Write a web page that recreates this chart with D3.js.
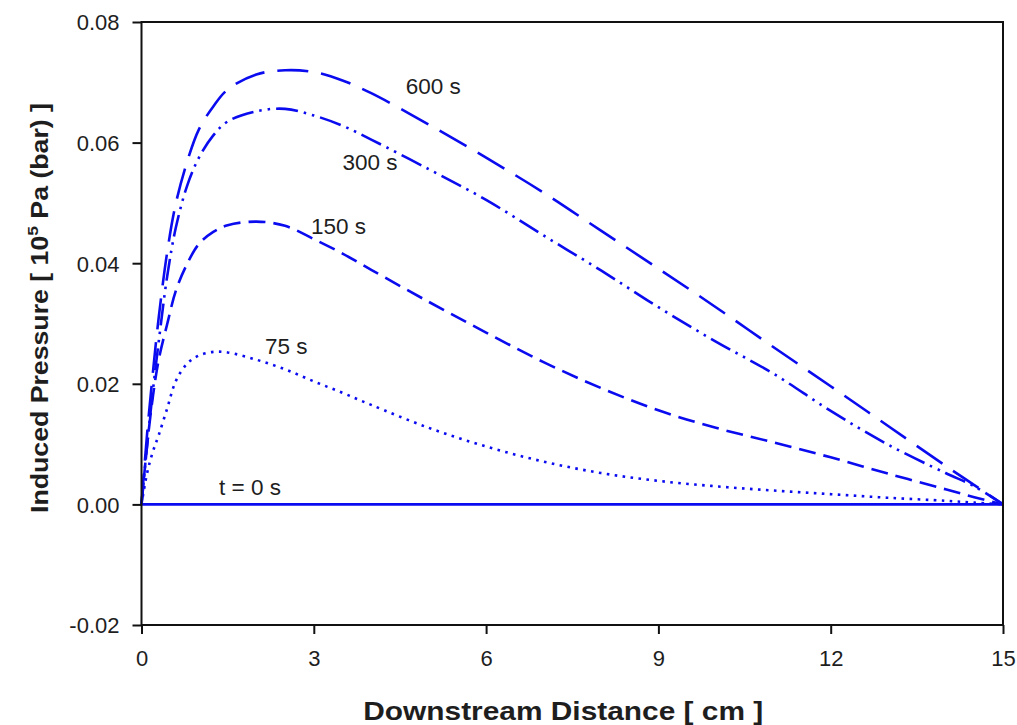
<!DOCTYPE html>
<html>
<head>
<meta charset="utf-8">
<script src="https://cdn.jsdelivr.net/npm/d3@7"></script>
<style>
  html, body { margin: 0; padding: 0; background: #fff; }
  svg { display: block; font-family: "Liberation Sans", Arial, sans-serif; }
</style>
</head>
<body>
<svg id="chart" width="1017" height="725"></svg>
<script>
// Downstream distance (cm) at which each profile is sampled
const distance = [0, 0.1, 0.2, 0.3, 0.45, 0.6, 0.8, 1.0, 1.25, 1.5, 2.0, 2.5, 3.0, 3.5, 4.0, 5.0, 6.0, 7.0, 8.0, 9.0, 10.0, 11.0, 12.0, 13.0, 14.0, 14.5, 15.0];

// Induced pressure (10^5 Pa) along the channel at successive times
const p600 = [0, 0.012, 0.022, 0.031, 0.042, 0.050, 0.057, 0.0622, 0.0660, 0.0688, 0.0713, 0.0720, 0.0717, 0.0703, 0.0682, 0.0630, 0.0575, 0.0517, 0.0454, 0.0391, 0.0327, 0.0261, 0.0196, 0.0130, 0.0064, 0.0032, 0];
const p300 = [0, 0.010, 0.019, 0.027, 0.038, 0.046, 0.053, 0.0575, 0.0612, 0.0635, 0.0652, 0.0656, 0.0645, 0.0628, 0.0605, 0.0556, 0.0505, 0.0446, 0.0388, 0.0327, 0.0270, 0.0217, 0.0155, 0.0099, 0.0052, 0.0030, 0];
const p150 = [0, 0.010, 0.018, 0.024, 0.030, 0.0355, 0.040, 0.0432, 0.0452, 0.0463, 0.0469, 0.0462, 0.0440, 0.0416, 0.0389, 0.0336, 0.0285, 0.0236, 0.0193, 0.0156, 0.0127, 0.0103, 0.0078, 0.0051, 0.0025, 0.0012, 0];
const p75  = [0, 0.0053, 0.0088, 0.0115, 0.016, 0.0205, 0.0234, 0.0247, 0.0253, 0.0252, 0.0240, 0.0224, 0.0204, 0.0185, 0.0165, 0.0127, 0.0096, 0.0071, 0.0052, 0.0039, 0.0030, 0.0023, 0.0017, 0.0011, 0.0006, 0.0003, 0];
const p0   = [0, 0, 0, 0, 0, 0, 0, 0, 0, 0, 0, 0, 0, 0, 0, 0, 0, 0, 0, 0, 0, 0, 0, 0, 0, 0, 0];

// Axis ticks
const xTicks = [0, 3, 6, 9, 12, 15];
const yTicks = [-0.02, 0, 0.02, 0.04, 0.06, 0.08];

// Curve labels: text, anchor distance, anchor pressure
const labelText = ["600 s", "300 s", "150 s", "75 s", "t = 0 s"];
const labelX = [4.6, 3.5, 2.95, 2.15, 1.35];
const labelY = [0.0680, 0.0555, 0.0449, 0.0250, 0.0016];

const series = [
  { values: p0,   dash: null },
  { values: p75,  dash: "2.6,5.4" },
  { values: p150, dash: "17,8" },
  { values: p300, dash: "22,6,2.5,6,2.5,6" },
  { values: p600, dash: "31,13" }
];

const svg = d3.select("#chart");
const plotLeft = 141.5, plotRight = 1003, plotTop = 22, plotBottom = 625;

const x = d3.scaleLinear().domain([0, 15]).range([plotLeft, plotRight]);
const y = d3.scaleLinear().domain([-0.02, 0.08]).range([plotBottom, plotTop]);

const blue = "#0b0bf0";
const ink = "#1e1e1e";

// Profiles
const line = d3.line()
  .x(d => x(d[0]))
  .y(d => y(d[1]))
  .curve(d3.curveCatmullRom.alpha(0.5));

svg.append("g")
  .selectAll("path")
  .data(series)
  .join("path")
  .attr("d", s => line(distance.map((d, i) => [d, s.values[i]])))
  .attr("fill", "none")
  .attr("stroke", blue)
  .attr("stroke-width", s => s.dash ? 2.6 : 2.8)
  .attr("stroke-dasharray", s => s.dash);

// Plot frame
svg.append("rect")
  .attr("x", plotLeft).attr("y", plotTop)
  .attr("width", plotRight - plotLeft).attr("height", plotBottom - plotTop)
  .attr("fill", "none").attr("stroke", "#111").attr("stroke-width", 2);

// Axes
const xAxis = d3.axisBottom(x).tickValues(xTicks).tickSize(9).tickPadding(12)
  .tickFormat(d3.format("d"));
const gx = svg.append("g").attr("transform", `translate(0,${plotBottom})`).call(xAxis);

const yAxis = d3.axisLeft(y).tickValues(yTicks).tickSize(9).tickPadding(13)
  .tickFormat(d => (d < 0 ? "-" : "") + Math.abs(d).toFixed(2));
const gy = svg.append("g").attr("transform", `translate(${plotLeft},0)`).call(yAxis);

[gx, gy].forEach(g => {
  g.select(".domain").remove();
  g.selectAll(".tick line").attr("stroke", "#111").attr("stroke-width", 2);
  g.selectAll(".tick text")
    .attr("fill", ink)
    .style("font-size", "22px")
    .style("font-family", "'Liberation Sans', Arial, sans-serif");
});
gx.selectAll(".tick text").attr("dy", "0.92em");
gy.selectAll(".tick text").attr("dy", "0.36em");

// Axis titles
svg.append("text")
  .attr("x", (plotLeft + plotRight) / 2 - 9)
  .attr("y", 720)
  .attr("text-anchor", "middle")
  .attr("textLength", 400)
  .attr("lengthAdjust", "spacingAndGlyphs")
  .attr("fill", ink)
  .style("font-size", "26px")
  .style("font-weight", "bold")
  .text("Downstream Distance [ cm ]");

const yTitle = svg.append("text")
  .attr("transform", `translate(48,308) rotate(-90)`)
  .attr("text-anchor", "middle")
  .attr("textLength", 410)
  .attr("lengthAdjust", "spacingAndGlyphs")
  .attr("fill", ink)
  .style("font-size", "23px")
  .style("font-weight", "bold");
yTitle.append("tspan").text("Induced Pressure [ 10");
yTitle.append("tspan").attr("dy", -10).style("font-size", "15px").text("5");
yTitle.append("tspan").attr("dy", 10).text(" Pa (bar) ]");

// Curve labels
svg.append("g")
  .selectAll("text")
  .data(labelText)
  .join("text")
  .attr("x", (d, i) => x(labelX[i]))
  .attr("y", (d, i) => y(labelY[i]))
  .attr("fill", ink)
  .style("font-size", "22.5px")
  .text(d => d);
</script>
</body>
</html>
